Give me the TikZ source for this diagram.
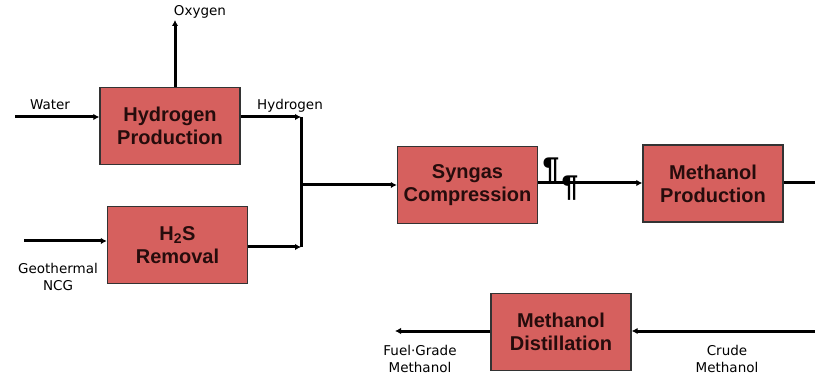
\documentclass[tikz,border=0pt]{standalone}
\usepackage{fontspec}
\setmainfont{Liberation Sans}
\newfontfamily\labelfont{DejaVu Sans}
\usepackage{xcolor}
\usetikzlibrary{positioning, arrows.meta}
\definecolor{boxred}{RGB}{214,96,94}
\definecolor{boxtext}{RGB}{38,12,12}

\begin{document}
\begin{tikzpicture}[x=1pt, y=-1pt,
  every node/.style={inner sep=0pt},
  unit/.style={draw=black!80, line width=1.4pt, fill=boxred, minimum width=140pt,
    minimum height=77pt, align=center, text=boxtext,
    font=\fontsize{20}{23}\selectfont\bfseries},
  ann/.style={font=\labelfont\fontsize{13.5}{17}\selectfont, align=center},
  pil/.style={font=\fontsize{30}{30}\selectfont\bfseries},
  flow/.style={-{Latex[length=6pt, width=6.5pt]}, line width=3pt},
  pipe/.style={line width=3pt}]
\useasboundingbox (0,0) rectangle (815,377);

\node[unit] (hydProd)  at (170,126)   {Hydrogen\\Production};
\node[unit] (h2sRem)   at (177.5,245) {H\textsubscript{2}S\\Removal};
\node[unit] (synComp)  at (467.5,185) {Syngas\\Compression};
\node[unit] (methProd) at (713,183.5) {Methanol\\Production};
\node[unit] (methDist) at (561,332)   {Methanol\\Distillation};

\coordinate (waterIn) at (15,117);
\coordinate (oxyOut)  at (175,20);
\coordinate (ncgIn)   at (24,241);
\coordinate (hydJoin) at (301,117);
\coordinate (h2sJoin) at (301,247);
\coordinate (mixPt)   at (301,185);
\coordinate (prodOut) at (815,183);
\coordinate (crudeIn) at (815,331);
\coordinate (fuelOut) at (395,331);

\draw[flow] (waterIn) -- (waterIn -| hydProd.west);
\draw[flow] (oxyOut |- hydProd.north) -- (oxyOut);
\draw[flow] (hydJoin -| hydProd.east) -- (hydJoin);
\draw[pipe] (hydJoin) -- (h2sJoin);
\draw[flow] (ncgIn) -- (ncgIn -| h2sRem.west);
\draw[flow] (h2sJoin -| h2sRem.east) -- (h2sJoin);
\draw[flow] (mixPt) -- (synComp.west);
\draw[flow] (synComp.east |- prodOut) -- (methProd.west |- prodOut);
\draw[pipe] (methProd.east |- prodOut) -- (prodOut);
\draw[flow] (crudeIn) -- (crudeIn -| methDist.east);
\draw[flow] (fuelOut -| methDist.west) -- (fuelOut);

\node[ann] (oxyLbl)   at (200,12)   {Oxygen};
\node[ann] (waterLbl) at (50,105)   {Water};
\node[ann] (hydLbl)   at (290,106)  {Hydrogen};
\node[ann] (ncgLbl)   at (58,277)   {Geothermal\\NCG};
\node[ann] (fuelLbl)  at (420,359)  {Fuel·Grade\\Methanol};
\node[ann] (crudeLbl) at (727,359)  {Crude\\Methanol};

\node[pil] (pilA) at (551,170) {¶};
\node[pil] (pilB) at (570,188) {¶};
\end{tikzpicture}
\end{document}
